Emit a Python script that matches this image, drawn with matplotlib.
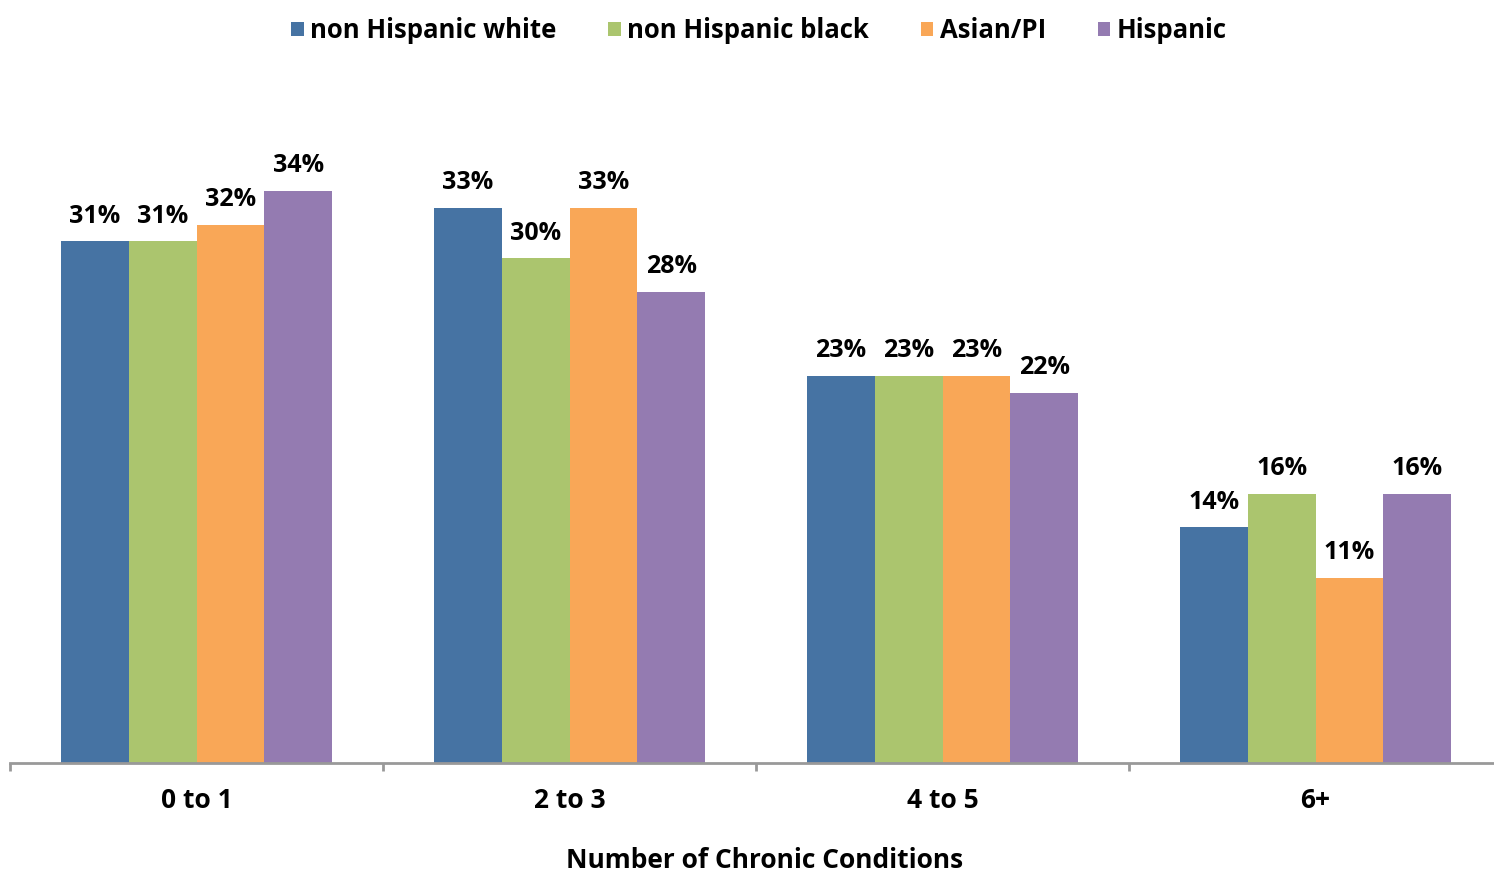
import numpy as np
import matplotlib
matplotlib.use("Agg")
import matplotlib.pyplot as plt
from matplotlib.patches import Patch

plt.rcParams['font.family'] = ['Open Sans', 'DejaVu Sans']
plt.rcParams['font.weight'] = 'bold'

# 数据
categories = ['0 to 1', '2 to 3', '4 to 5', '6+']
series_names = ['non Hispanic white', 'non Hispanic black', 'Asian/PI', 'Hispanic']
white = [31, 33, 23, 14]
black = [31, 30, 23, 16]
asian = [32, 33, 23, 11]
hispanic = [34, 28, 22, 16]
colors = ['#4673A3', '#ABC56E', '#F9A757', '#947BB1']

fig = plt.figure(figsize=(14.94, 8.73), dpi=100)
ax = fig.add_axes([0.0067, 0.126, 0.9987, 0.771])

x = np.arange(len(categories))
w = 0.182
for i, (vals, c) in enumerate(zip([white, black, asian, hispanic], colors)):
    pos = x + (i - 1.5) * w
    ax.bar(pos, vals, width=w, color=c, edgecolor='none')
    for px, v in zip(pos, vals):
        ax.annotate(f'{v}%', (px, v), xytext=(0, 9), textcoords='offset points',
                    ha='center', va='bottom', fontsize=18, fontweight='bold')

ax.set_xlim(-0.5, 3.5)
ax.set_ylim(0, 40)
ax.set_yticks([])
for s in ['top', 'right', 'left']:
    ax.spines[s].set_visible(False)
ax.spines['bottom'].set_color('#999999')
ax.spines['bottom'].set_linewidth(2)

ax.set_xticks(x)
ax.set_xticklabels(categories, fontsize=19, fontweight='bold')
ax.tick_params(axis='x', which='major', length=0, pad=17)
ax.set_xticks(np.arange(-0.5, 4, 1), minor=True)
ax.tick_params(axis='x', which='minor', length=6, width=2, color='#999999')
ax.set_xlabel('Number of Chronic Conditions', fontsize=19, fontweight='bold', labelpad=24)
ax.xaxis.label.set_x(0.506)

handles = [Patch(facecolor=c, label=n) for c, n in zip(colors, series_names)]
fig.legend(handles=handles, loc='center', bbox_to_anchor=(0.508, 0.965), ncol=4,
           frameon=False, fontsize=18.5, handlelength=0.5, handleheight=0.5,
           handletextpad=0.25, columnspacing=2.0)

plt.savefig('out.png', dpi=100)
